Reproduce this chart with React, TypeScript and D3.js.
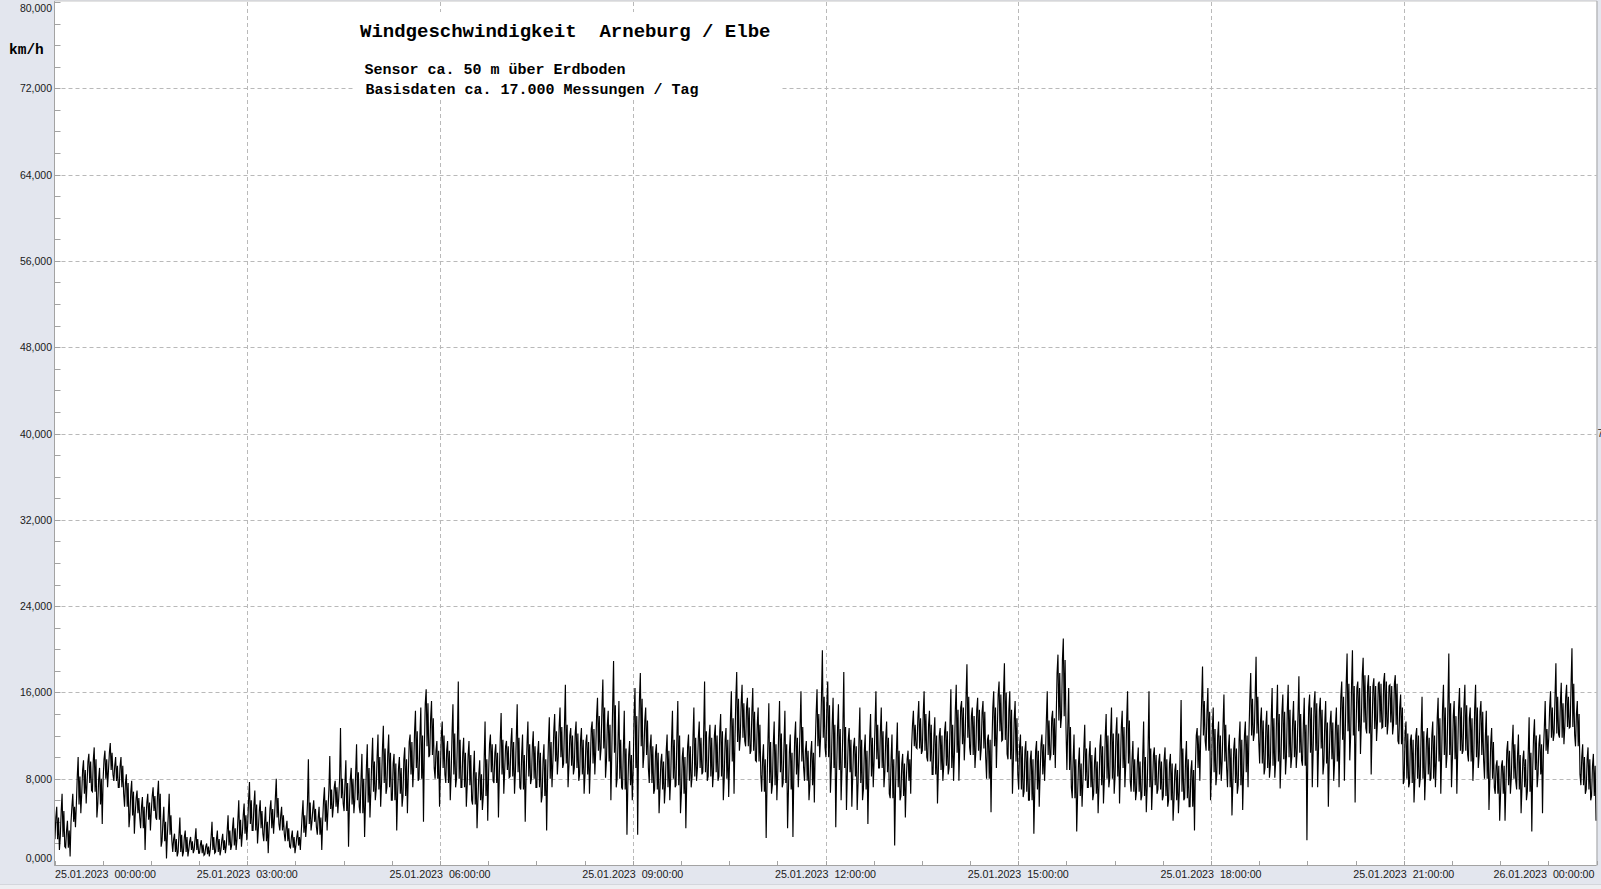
import React from 'react';
import * as d3 from 'd3';

const W = 1601;
const H = 889;

const titleText = 'Windgeschwindigkeit  Arneburg / Elbe';
const subText1 = 'Sensor ca. 50 m über Erdboden';
const subText2 = 'Basisdaten ca. 17.000 Messungen / Tag';
const unitText = 'km/h';

const xTickHours = [0, 3, 6, 9, 12, 15, 18, 21, 24];
const xTickLabels = [
  '25.01.2023  00:00:00',
  '25.01.2023  03:00:00',
  '25.01.2023  06:00:00',
  '25.01.2023  09:00:00',
  '25.01.2023  12:00:00',
  '25.01.2023  15:00:00',
  '25.01.2023  18:00:00',
  '25.01.2023  21:00:00',
  '26.01.2023  00:00:00',
];
const yTicks = [0, 8, 16, 24, 32, 40, 48, 56, 64, 72, 80];

// 5-minute bins (00:00 .. 24:00): highest and lowest reading per bin, km/h
const hiVals = [
  5.4, 6.6, 4.1, 6.6, 10.0, 9.7, 10.3, 10.9, 9.0, 10.6, 11.3, 10.0,
  10.0, 8.4, 7.8, 6.9, 6.3, 6.6, 7.2, 7.8, 5.4, 6.6, 2.9, 4.4,
  3.2, 2.6, 3.4, 2.3, 2.0, 4.0, 3.2, 2.9, 4.6, 4.4, 6.0, 5.7,
  7.7, 6.9, 6.0, 5.4, 6.0, 8.0, 5.4, 4.1, 3.2, 3.2, 6.0, 9.8,
  6.0, 5.4, 7.2, 10.1, 7.8, 12.7, 9.7, 9.0, 11.2, 10.3, 11.2, 11.8,
  12.1, 12.9, 12.1, 10.3, 10.0, 10.9, 12.1, 14.3, 14.6, 16.3, 15.2, 11.5,
  13.3, 11.5, 14.9, 17.0, 11.8, 11.5, 10.6, 9.7, 13.3, 12.1, 11.2, 14.1,
  11.5, 12.7, 14.9, 12.1, 13.3, 12.4, 11.5, 11.2, 13.7, 14.0, 14.6, 16.7,
  12.7, 13.3, 12.7, 12.1, 13.3, 15.5, 17.2, 14.3, 18.9, 15.2, 14.3, 11.5,
  16.4, 17.8, 14.6, 12.1, 11.2, 10.3, 12.1, 14.3, 15.2, 10.9, 12.1, 14.6,
  13.3, 17.0, 13.0, 13.0, 14.0, 12.7, 16.1, 17.9, 16.7, 15.5, 16.4, 14.6,
  11.2, 15.0, 13.3, 15.2, 14.3, 12.1, 13.3, 16.1, 11.5, 11.5, 16.3, 19.9,
  17.0, 15.5, 14.9, 17.9, 12.7, 11.8, 14.6, 12.1, 14.0, 16.1, 14.6, 13.3,
  12.1, 13.2, 10.3, 10.6, 14.3, 15.2, 16.1, 14.3, 13.7, 12.7, 13.3, 16.3,
  16.7, 15.2, 18.6, 14.6, 15.5, 15.2, 12.1, 16.1, 17.0, 18.7, 16.1, 15.2,
  12.1, 11.5, 10.6, 11.5, 12.1, 16.1, 14.3, 19.5, 21.0, 16.4, 12.1, 10.9,
  13.0, 11.5, 10.9, 12.1, 14.0, 14.6, 13.7, 14.3, 16.1, 11.5, 10.9, 13.3,
  16.1, 10.9, 10.3, 10.9, 10.3, 9.4, 15.3, 11.5, 9.7, 12.7, 18.4, 16.4,
  14.6, 13.3, 15.8, 12.1, 11.8, 13.3, 13.3, 17.8, 19.3, 14.6, 14.3, 16.4,
  16.7, 15.8, 16.7, 15.2, 17.5, 15.5, 15.8, 16.1, 15.5, 15.2, 14.3, 14.6,
  17.0, 19.6, 19.9, 17.0, 19.2, 17.6, 17.3, 17.0, 17.8, 16.7, 17.6, 15.8,
  13.3, 12.1, 12.7, 15.6, 12.7, 13.3, 15.5, 16.7, 19.6, 15.2, 16.4, 16.7,
  14.6, 16.7, 15.2, 14.3, 12.7, 9.7, 9.7, 11.5, 13.0, 12.1, 10.6, 13.7,
  13.5, 12.1, 15.2, 16.1, 18.7, 16.9, 16.7, 20.1, 15.2, 11.2, 10.9, 10.3,
];
const loVals = [
  1.4, 1.7, 0.8, 3.5, 4.8, 5.7, 6.9, 4.4, 3.8, 7.2, 8.4, 7.2,
  6.6, 3.5, 2.9, 4.4, 1.4, 3.2, 4.4, 1.7, 0.6, 2.3, 0.8, 0.8,
  0.8, 1.1, 1.1, 0.9, 0.8, 1.1, 0.9, 1.1, 1.4, 1.4, 1.7, 2.3,
  3.2, 2.0, 2.9, 1.1, 2.9, 3.8, 2.9, 1.7, 1.1, 1.4, 2.6, 3.2,
  3.5, 1.4, 3.2, 4.4, 4.8, 5.7, 1.7, 4.8, 5.4, 2.6, 4.4, 6.0,
  5.4, 6.6, 6.0, 3.2, 5.4, 4.8, 7.2, 7.8, 4.0, 10.0, 9.0, 5.4,
  8.4, 6.0, 7.2, 7.2, 5.4, 6.0, 3.4, 5.1, 4.1, 7.8, 4.4, 6.6,
  8.1, 6.6, 7.2, 4.0, 7.5, 7.2, 5.8, 3.2, 7.2, 8.4, 9.0, 7.2,
  8.4, 7.8, 6.6, 6.6, 8.4, 9.7, 8.1, 6.0, 7.2, 7.2, 2.8, 6.0,
  2.8, 9.0, 9.0, 6.6, 4.8, 5.7, 6.0, 7.2, 4.8, 3.4, 7.2, 7.8,
  8.4, 7.8, 7.2, 7.8, 6.0, 6.3, 6.6, 10.6, 11.5, 10.3, 9.7, 8.4,
  2.5, 6.6, 6.0, 7.2, 3.4, 2.6, 7.2, 9.0, 6.0, 5.8, 10.0, 10.9,
  6.7, 3.5, 6.0, 5.1, 5.4, 5.1, 6.0, 3.8, 7.2, 9.0, 7.2, 6.6,
  1.8, 6.0, 4.4, 6.6, 10.9, 10.3, 10.0, 8.4, 5.7, 7.8, 8.4, 7.8,
  7.8, 9.7, 10.9, 9.0, 9.7, 10.0, 4.9, 9.0, 11.5, 10.3, 6.6, 8.4,
  6.3, 6.0, 2.9, 5.4, 7.8, 9.7, 9.0, 12.7, 12.7, 7.2, 3.1, 5.4,
  7.2, 6.0, 4.8, 5.7, 7.2, 6.6, 5.7, 7.2, 7.8, 6.0, 6.0, 4.9,
  5.1, 6.6, 6.0, 5.4, 4.1, 4.8, 6.0, 5.4, 3.2, 7.8, 11.5, 6.0,
  7.4, 7.8, 9.0, 4.6, 6.6, 5.1, 7.2, 11.5, 11.5, 8.4, 8.1, 8.1,
  7.1, 8.4, 9.0, 9.0, 9.7, 2.3, 7.2, 7.2, 8.4, 5.4, 7.8, 7.2,
  7.8, 9.7, 5.8, 10.3, 12.7, 8.4, 11.5, 12.7, 12.1, 12.1, 11.5, 7.5,
  7.2, 5.8, 7.2, 6.0, 7.8, 7.2, 6.6, 9.0, 7.2, 6.6, 10.3, 10.3,
  7.8, 9.0, 9.7, 5.1, 7.2, 4.1, 4.1, 6.6, 7.8, 4.8, 6.0, 3.1,
  7.2, 4.8, 10.3, 11.5, 12.1, 11.2, 12.7, 12.1, 8.4, 6.6, 6.0, 4.1,
];

// 5-minute bins: upper and lower edge of the dense core band, km/h
const coreHiVals = [
  4.4, 5.0, 3.2, 5.4, 8.2, 8.8, 9.6, 9.8, 8.0, 9.8, 10.4, 9.2,
  9.2, 7.6, 6.8, 6.2, 5.4, 5.8, 6.4, 6.6, 4.0, 4.6, 2.4, 2.8,
  2.6, 2.2, 2.4, 1.9, 1.7, 2.6, 2.4, 2.3, 3.2, 3.4, 4.2, 4.6,
  6.0, 5.6, 5.0, 4.0, 5.2, 6.2, 4.6, 3.4, 2.6, 2.6, 4.6, 5.8,
  5.2, 4.4, 6.0, 7.0, 7.2, 8.0, 7.6, 8.0, 8.6, 8.0, 9.0, 9.6,
  10.0, 10.8, 10.4, 9.4, 9.0, 9.8, 11.4, 12.4, 12.0, 15.0, 13.6, 10.6,
  12.0, 10.6, 12.2, 11.6, 10.4, 10.2, 8.6, 8.4, 9.8, 11.2, 10.4, 11.6,
  11.0, 11.4, 11.8, 10.2, 11.2, 11.0, 10.4, 9.8, 11.4, 12.4, 12.8, 13.0,
  12.0, 12.2, 11.6, 11.4, 12.6, 13.8, 14.6, 13.0, 14.8, 11.6, 10.8, 10.2,
  13.8, 15.4, 13.4, 11.0, 10.4, 9.6, 10.6, 11.6, 12.0, 10.0, 11.0, 11.8,
  11.8, 12.4, 11.8, 12.0, 12.4, 11.6, 13.6, 15.4, 15.0, 14.6, 14.2, 13.0,
  9.8, 11.4, 11.2, 12.2, 11.2, 10.4, 11.8, 12.8, 10.6, 10.4, 14.0, 15.6,
  14.8, 13.0, 12.6, 12.8, 11.6, 11.0, 11.6, 10.6, 11.8, 13.0, 12.4, 11.8,
  9.8, 10.6, 9.4, 9.8, 13.0, 13.6, 14.0, 13.0, 12.0, 12.0, 12.4, 13.0,
  14.4, 14.6, 15.6, 13.8, 14.4, 14.2, 11.6, 14.6, 15.8, 16.0, 14.4, 13.6,
  11.0, 10.6, 9.8, 10.6, 11.2, 13.4, 13.6, 17.8, 19.0, 12.8, 9.8, 9.4,
  10.8, 10.2, 9.6, 11.0, 12.0, 12.2, 12.2, 12.8, 13.4, 9.8, 9.6, 10.0,
  10.8, 10.2, 9.6, 9.8, 9.4, 8.8, 10.8, 9.8, 8.8, 12.0, 15.2, 14.2,
  12.6, 12.0, 13.0, 10.8, 10.8, 11.6, 12.0, 15.4, 15.6, 13.4, 13.0, 13.6,
  14.0, 14.2, 14.4, 13.4, 14.0, 13.0, 14.6, 15.0, 14.4, 13.2, 13.2, 13.0,
  15.6, 16.8, 16.6, 16.4, 17.6, 16.6, 16.6, 16.8, 17.0, 16.6, 16.8, 14.6,
  12.2, 11.6, 12.0, 12.4, 11.8, 12.0, 13.6, 14.6, 15.0, 13.8, 14.6, 14.8,
  13.6, 14.6, 14.2, 12.0, 11.4, 9.2, 9.2, 10.6, 11.2, 10.2, 9.8, 10.4,
  12.0, 11.2, 12.6, 14.6, 15.6, 15.0, 15.6, 16.8, 14.0, 10.0, 9.8, 9.2,
];
const coreLoVals = [
  2.4, 2.6, 1.6, 4.0, 5.6, 6.6, 7.6, 6.8, 5.6, 8.0, 8.8, 7.8,
  7.2, 5.4, 4.6, 4.8, 3.4, 4.2, 5.0, 4.2, 2.2, 2.8, 1.2, 1.2,
  1.2, 1.4, 1.4, 1.1, 1.0, 1.4, 1.2, 1.4, 1.8, 1.8, 2.4, 2.9,
  3.8, 3.2, 3.4, 2.2, 3.4, 4.4, 3.2, 2.2, 1.6, 1.8, 3.0, 3.8,
  4.0, 2.8, 4.0, 5.2, 5.4, 6.2, 5.0, 5.6, 6.0, 4.8, 5.8, 6.8,
  7.0, 7.6, 7.2, 6.0, 6.6, 6.4, 8.4, 9.0, 8.0, 11.0, 10.2, 8.0,
  9.0, 7.6, 8.4, 8.0, 7.2, 7.4, 5.6, 6.0, 6.4, 8.6, 7.6, 8.4,
  8.8, 8.2, 8.6, 7.0, 8.2, 8.0, 7.2, 6.4, 8.0, 9.6, 10.0, 9.4,
  9.2, 9.0, 8.4, 8.4, 9.4, 10.6, 10.8, 9.6, 10.4, 8.0, 7.0, 7.4,
  9.0, 11.0, 10.2, 7.6, 7.0, 7.0, 7.2, 8.0, 7.4, 6.6, 7.8, 8.2,
  9.0, 8.6, 8.2, 8.6, 8.2, 8.0, 9.6, 11.4, 11.8, 11.0, 10.6, 9.6,
  6.8, 7.6, 7.4, 8.6, 7.6, 7.0, 8.4, 9.6, 7.8, 7.4, 11.0, 11.8,
  10.0, 9.0, 8.8, 9.0, 8.6, 8.2, 7.6, 7.0, 8.2, 9.8, 9.0, 8.6,
  6.2, 7.2, 6.4, 7.8, 11.0, 10.8, 10.6, 9.6, 8.4, 8.8, 9.2, 9.0,
  10.4, 11.2, 11.8, 10.2, 10.6, 10.8, 8.0, 11.0, 12.4, 11.6, 9.8, 9.6,
  7.0, 6.8, 6.0, 7.0, 8.4, 10.2, 10.2, 13.4, 13.8, 8.8, 6.2, 6.4,
  7.8, 7.2, 6.6, 7.4, 8.0, 8.0, 8.2, 9.0, 9.4, 6.8, 6.8, 6.4,
  7.2, 7.4, 7.0, 6.4, 6.0, 6.0, 6.8, 6.2, 5.4, 9.0, 12.0, 10.6,
  8.6, 8.4, 9.6, 7.2, 7.6, 7.4, 8.6, 12.0, 12.2, 9.4, 9.0, 9.2,
  9.6, 9.8, 10.0, 10.0, 10.4, 9.2, 10.4, 10.6, 10.8, 9.4, 9.8, 9.6,
  11.6, 12.4, 12.0, 12.4, 13.2, 12.2, 12.6, 13.2, 12.8, 13.2, 13.0, 11.2,
  8.0, 7.6, 8.0, 8.0, 8.4, 8.0, 9.6, 10.2, 10.2, 9.8, 10.6, 10.6,
  9.6, 10.0, 10.2, 8.0, 8.0, 6.6, 6.6, 7.4, 8.0, 7.0, 7.2, 6.8,
  8.8, 8.4, 10.6, 11.8, 12.2, 11.8, 12.8, 12.8, 11.0, 7.4, 7.0, 6.4,
];

const PANEL = '#e3e6ee';
const GRID = '#b9b9b9';
const AXIS = '#a3a3a3';
const SANS = '"Liberation Sans", Arial, sans-serif';
const MONO = '"Liberation Mono", "Courier New", monospace';

export default function App() {
  const L = 54.5;
  const R = 1596.5;
  const T = 2;
  const B = 865;
  const x = d3.scaleLinear().domain([0, 24]).range([L, R]);
  const y = d3.scaleLinear().domain([0, 80]).range([B, T]);

  const pts: [number, number][] = [];
  hiVals.forEach((h, i) => {
    const t0 = (i * 5) / 60;
    const seq = [coreLoVals[i], coreHiVals[i], h, coreLoVals[i], coreHiVals[i], loVals[i]];
    const step = 5 / seq.length;
    seq.forEach((v, k) => pts.push([t0 + (step / 2 + step * k) / 60, v]));
  });
  const line = d3
    .line<[number, number]>()
    .x((d) => x(d[0]))
    .y((d) => y(d[1]));

  const fmt = (v: number) => d3.format('.3f')(v).replace('.', ',');
  const yMinor = d3.range(0, 80.001, 2);
  const xMinor = d3.range(0, 24.001, 0.75);

  return (
    <svg
      width={W}
      height={H}
      style={{ position: 'absolute', left: 0, top: 0, display: 'block' }}
    >
      <rect x={0} y={0} width={W} height={H} fill={PANEL} />
      <rect x={0} y={884} width={W} height={5} fill="#eeeff2" />
      <line x1={0} x2={W} y1={884.5} y2={884.5} stroke="#d4d6dc" />
      <rect x={L} y={T - 1} width={R - L} height={B - T + 1} fill="#ffffff" />

      {/* horizontal grid */}
      {yTicks.slice(1, -1).map((v) => (
        <line
          key={'hg' + v}
          x1={L}
          x2={R}
          y1={Math.round(y(v)) + 0.5}
          y2={Math.round(y(v)) + 0.5}
          stroke={GRID}
          strokeDasharray="4 3"
        />
      ))}
      {/* vertical grid */}
      {xTickHours.slice(1, -1).map((h) => (
        <line
          key={'vg' + h}
          x1={Math.round(x(h)) + 0.5}
          x2={Math.round(x(h)) + 0.5}
          y1={T}
          y2={B}
          stroke={GRID}
          strokeDasharray="4 3"
        />
      ))}

      {/* minor ticks */}
      {yMinor.map((v) => (
        <line
          key={'ym' + v}
          x1={L}
          x2={L + 6}
          y1={Math.round(y(v)) + 0.5}
          y2={Math.round(y(v)) + 0.5}
          stroke={AXIS}
        />
      ))}
      {xMinor.map((h) => (
        <line
          key={'xm' + h}
          x1={Math.round(x(h)) + 0.5}
          x2={Math.round(x(h)) + 0.5}
          y1={B}
          y2={B - 4}
          stroke={AXIS}
        />
      ))}

      {/* title box */}
      <rect x={354} y={12} width={428} height={86} fill="#ffffff" />
      <text x={360} y={37} fontFamily={MONO} fontWeight="bold" fontSize={19} fill="#000" style={{ whiteSpace: 'pre' }}>
        {titleText}
      </text>
      <text x={364.5} y={73.5} fontFamily={MONO} fontWeight="bold" fontSize={15} fill="#000" style={{ whiteSpace: 'pre' }}>
        {subText1}
      </text>
      <text x={365.5} y={94} fontFamily={MONO} fontWeight="bold" fontSize={15} fill="#000" style={{ whiteSpace: 'pre' }}>
        {subText2}
      </text>

      {/* data line */}
      <path d={line(pts) || ''} fill="none" stroke="#000" strokeWidth={1.15} strokeLinejoin="miter" />

      {/* frame */}
      <line x1={L} x2={L} y1={T - 1} y2={B + 0.5} stroke={AXIS} />
      <line x1={L} x2={R} y1={B + 0.5} y2={B + 0.5} stroke={AXIS} />
      <line x1={L} x2={R + 0.5} y1={T - 1} y2={T - 1} stroke="#c8c8c8" />
      <line x1={R + 0.5} x2={R + 0.5} y1={T - 1} y2={B + 0.5} stroke={AXIS} />

      {/* y tick labels */}
      {yTicks.map((v, i) => {
        let yy = y(v) + 4;
        if (i === yTicks.length - 1) yy = 12;
        if (i === 0) yy = 862;
        return (
          <text key={'yl' + v} x={52} y={yy} textAnchor="end" fontFamily={SANS} fontSize={10.5} fill="#1a1a1a">
            {fmt(v)}
          </text>
        );
      })}
      <text x={9} y={54} fontFamily={MONO} fontWeight="bold" fontSize={14.5} fill="#000">
        {unitText}
      </text>

      {/* x tick labels */}
      {xTickHours.map((h, i) => {
        let anchor: 'start' | 'middle' | 'end' = 'middle';
        let xx = x(h);
        if (i === 0) {
          anchor = 'start';
          xx = L + 0.5;
        } else if (i === xTickHours.length - 1) {
          anchor = 'end';
          xx = R - 2;
        }
        return (
          <text
            key={'xl' + h}
            x={xx}
            y={878}
            textAnchor={anchor}
            fontFamily={SANS}
            fontSize={10.7}
            fill="#1a1a1a"
            style={{ whiteSpace: 'pre' }}
          >
            {xTickLabels[i]}
          </text>
        );
      })}

      <text x={1597.5} y={437} fontFamily={SANS} fontSize={10.5} fill="#1a1a1a">
        7
      </text>
    </svg>
  );
}
